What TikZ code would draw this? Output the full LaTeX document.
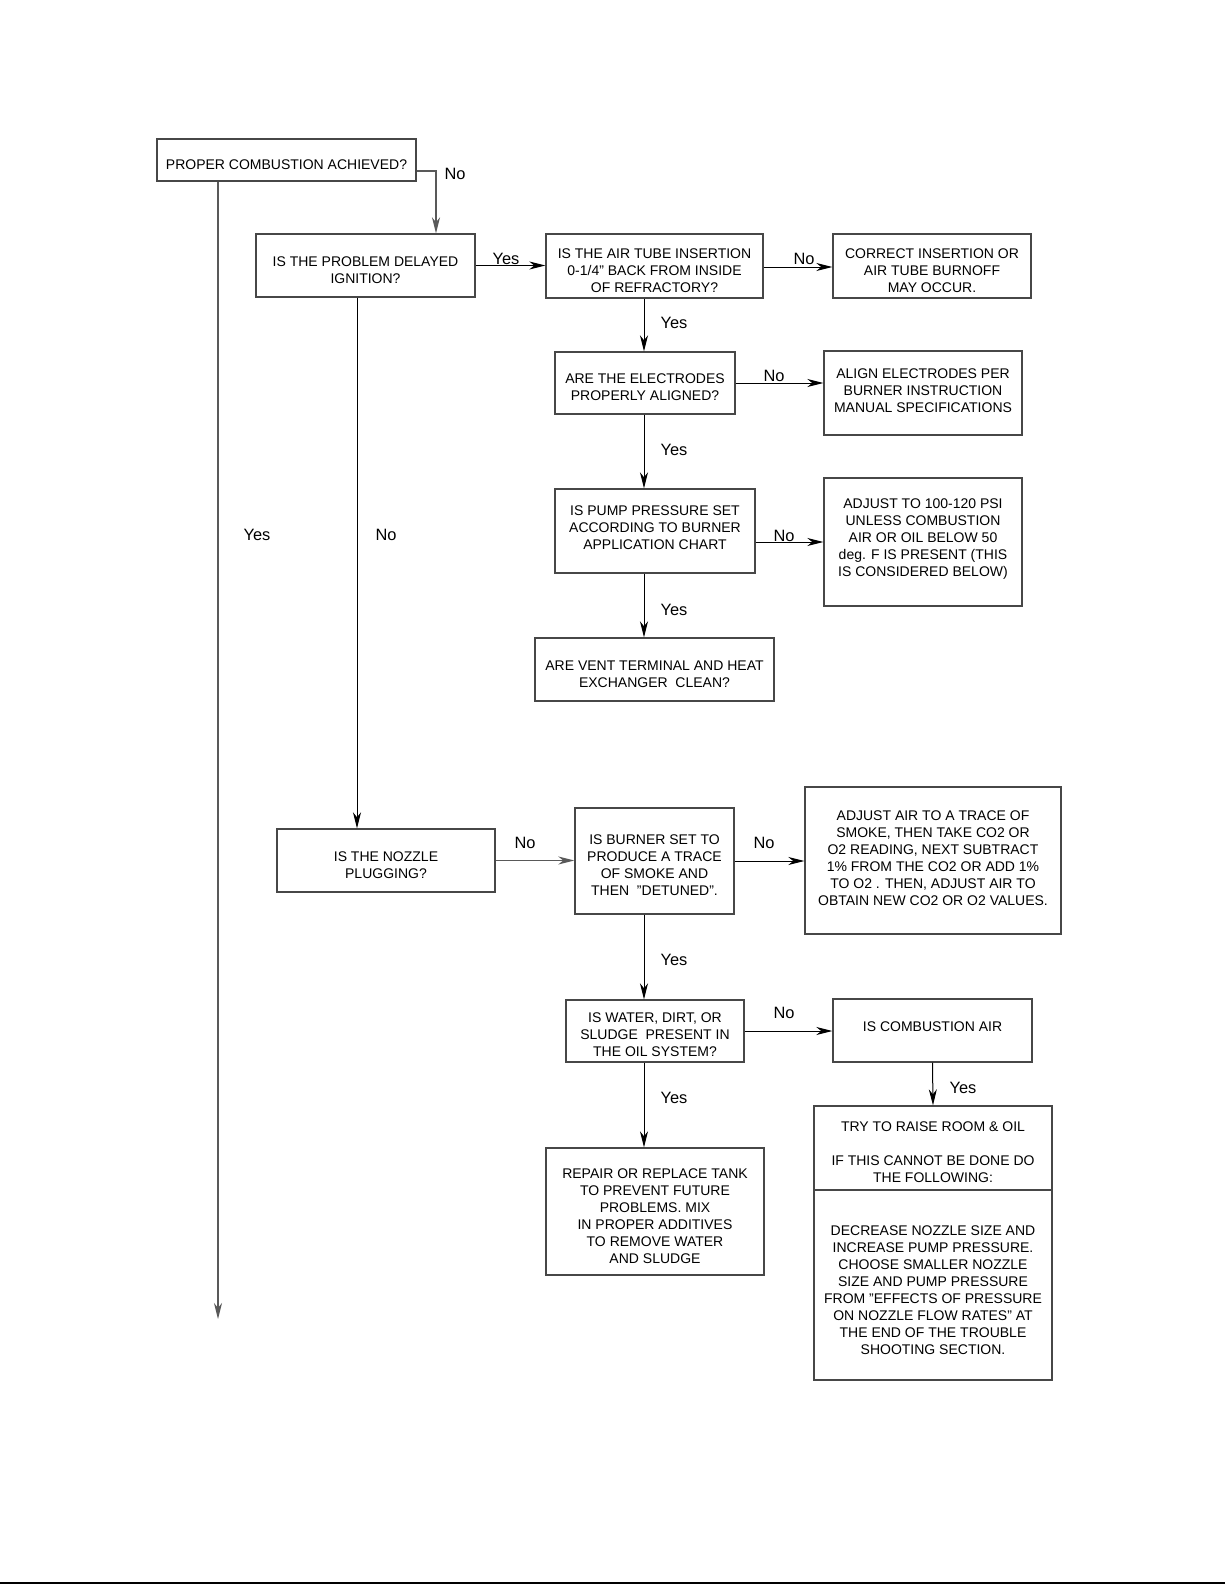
\documentclass[tikz,border=0pt]{standalone}
\usepackage{fontspec}
\setmainfont{Liberation Sans}
\usetikzlibrary{arrows.meta,calc}
\newcommand\tdn[1]{\rule{0pt}{#1}}
\begin{document}
\begin{tikzpicture}[x=0.5pt,y=-0.5pt,
  box/.style={draw=black!72,line width=0.7pt,rectangle,inner sep=0pt,align=center,font=\fontsize{7}{8.5}\selectfont},
  tup/.style={execute at end node={\rule[-#1]{0pt}{0pt}}},
  txt/.style={inner sep=0pt,align=center,font=\fontsize{7}{8.5}\selectfont},
  lbl/.style={font=\fontsize{8.2}{9.8}\selectfont,inner sep=0pt},
  conn/.style={draw=black,line width=0.5pt,-{Stealth[length=8pt,width=4pt,inset=2.5pt]}},
  gconn/.style={conn,draw=black!65,line width=0.75pt}]
\useasboundingbox (0,0) rectangle (1225,1585);
\fill[white] (0,0) rectangle (1225,1585);

% boxes
\node[box,minimum width=129.5pt,minimum height=21pt] (A) at (286.5,160) {\tdn{9.5pt}PROPER COMBUSTION ACHIEVED?};
\node[box,minimum width=109.5pt,minimum height=31.5pt] (B) at (365.5,265.5) {\tdn{10pt}IS THE PROBLEM DELAYED\\IGNITION?};
\node[box,minimum width=108.5pt,minimum height=32pt] (C) at (654.5,266) {\tdn{10pt}IS THE AIR TUBE INSERTION\\0-1/4" BACK FROM INSIDE\\OF REFRACTORY?};
\node[box,minimum width=99pt,minimum height=32pt] (D) at (932,266) {\tdn{10pt}CORRECT INSERTION OR\\AIR TUBE BURNOFF\\MAY OCCUR.};
\node[box,minimum width=90pt,minimum height=31pt] (E) at (645,383) {\tdn{9pt}ARE THE ELECTRODES\\PROPERLY ALIGNED?};
\node[box,tup=2.5pt,minimum width=99pt,minimum height=42pt] (F) at (923,393) {ALIGN ELECTRODES PER\\BURNER INSTRUCTION\\MANUAL SPECIFICATIONS};
\node[box,tup=3pt,minimum width=100pt,minimum height=42pt] (G) at (655,531) {IS PUMP PRESSURE SET\\ACCORDING TO BURNER\\APPLICATION CHART};
\node[box,tup=4pt,minimum width=99pt,minimum height=64pt] (H) at (923,542) {ADJUST TO 100-120 PSI\\UNLESS COMBUSTION\\AIR OR OIL BELOW 50\\deg. F IS PRESENT (THIS\\IS CONSIDERED BELOW)};
\node[box,minimum width=119.5pt,minimum height=31.5pt] (I) at (654.5,669.5) {\tdn{10pt}ARE VENT TERMINAL AND HEAT\\EXCHANGER\ \ CLEAN?};
\node[box,minimum width=109pt,minimum height=31.5pt] (J) at (386,860.5) {\tdn{10pt}IS THE NOZZLE\\PLUGGING?};
\node[box,minimum width=79.5pt,minimum height=53pt] (K) at (654.5,861) {\tdn{9pt}IS BURNER SET TO\\PRODUCE A TRACE\\OF SMOKE AND\\THEN\ \ "DETUNED".};
\node[box,tup=2.5pt,minimum width=128pt,minimum height=73.5pt] (L) at (933,860.5) {ADJUST AIR TO A TRACE OF\\SMOKE, THEN TAKE CO2 OR\\O2 READING, NEXT SUBTRACT\\1\% FROM THE CO2 OR ADD 1\%\\TO O2 . THEN, ADJUST AIR TO\\OBTAIN NEW CO2 OR O2 VALUES.};
\node[box,minimum width=89pt,minimum height=31pt] (M) at (655,1031) {\tdn{9pt}IS WATER, DIRT, OR\\SLUDGE\ \ PRESENT IN\\THE OIL SYSTEM?};
\node[box,tup=4pt,minimum width=99.5pt,minimum height=31.5pt] (N) at (932.5,1030.5) {IS COMBUSTION AIR};
\node[box,minimum width=109pt,minimum height=63.5pt] (O) at (655,1211.5) {\tdn{10pt}REPAIR OR REPLACE TANK\\TO PREVENT FUTURE\\PROBLEMS. MIX\\IN PROPER ADDITIVES\\TO REMOVE WATER\\AND SLUDGE};
\node[box,minimum width=119pt,minimum height=137pt] (P) at (933,1243) {};
\coordinate (ydiv) at (0,1190);
\draw[draw=black!72,line width=0.7pt] (P.west |- ydiv) -- (P.east |- ydiv);
\node[txt] (Pt) at (933,1152) {TRY TO RAISE ROOM \& OIL\\[8.5pt]IF THIS CANNOT BE DONE DO\\THE FOLLOWING:};
\node[txt] (Pb) at (933,1290) {DECREASE NOZZLE SIZE AND\\INCREASE PUMP PRESSURE.\\CHOOSE SMALLER NOZZLE\\SIZE AND PUMP PRESSURE\\FROM "EFFECTS OF PRESSURE\\ON NOZZLE FLOW RATES" AT\\THE END OF THE TROUBLE\\SHOOTING SECTION.};

% helper coordinates
\coordinate (ab) at (436,171);
\coordinate (yesend) at (218,1319);
\coordinate (x357) at (357,0);
\coordinate (x644) at (644,0);
\coordinate (y267) at (0,267);
\coordinate (y542) at (0,542);

% connectors
\draw[gconn] (A.east |- ab) -- (ab) -- (B.north -| ab);
\draw[gconn] (A.south -| yesend) -- (yesend);
\draw[conn] (B.south -| x357) -- (J.north -| x357);
\draw[conn] (B.east) -- (C.west |- B.east);
\draw[conn] (C.east |- y267) -- (D.west |- y267);
\draw[conn] (C.south -| x644) -- (E.north -| x644);
\draw[conn] (E.east) -- (F.west |- E.east);
\draw[conn] (E.south -| x644) -- (G.north -| x644);
\draw[conn] (G.east |- y542) -- (H.west |- y542);
\draw[conn] (G.south -| x644) -- (I.north -| x644);
\draw[gconn] (J.east) -- (K.west |- J.east);
\draw[conn] (K.east) -- (L.west |- K.east);
\draw[conn] (K.south -| x644) -- (M.north -| x644);
\draw[conn] (M.east) -- (N.west |- M.east);
\draw[conn] (M.south -| x644) -- (O.north -| x644);
\draw[conn] (N.south) -- (P.north);

% labels
\node[lbl] (l1) at (455,174) {No};
\node[lbl] (l2) at (506,259) {Yes};
\node[lbl] (l3) at (804,259) {No};
\node[lbl] (l4) at (674,323) {Yes};
\node[lbl] (l5) at (774,376) {No};
\node[lbl] (l6) at (674,450) {Yes};
\node[lbl] (l7) at (784,536) {No};
\node[lbl] (l8) at (674,610) {Yes};
\node[lbl] (l9) at (257,535) {Yes};
\node[lbl] (l10) at (386,535) {No};
\node[lbl] (l11) at (525,843) {No};
\node[lbl] (l12) at (764,843) {No};
\node[lbl] (l13) at (674,960) {Yes};
\node[lbl] (l14) at (784,1013) {No};
\node[lbl] (l15) at (674,1098) {Yes};
\node[lbl] (l16) at (963,1088) {Yes};

% page rule
\draw[line width=0.8pt] (0,1583) -- (1225,1583);
\end{tikzpicture}
\end{document}
